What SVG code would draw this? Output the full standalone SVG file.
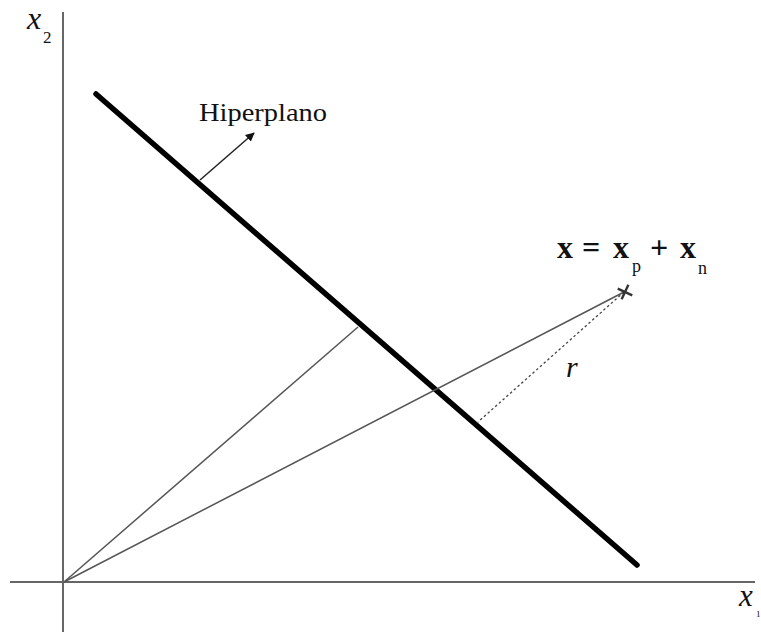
<svg xmlns="http://www.w3.org/2000/svg" width="761" height="632" viewBox="0 0 761 632">
<defs>
<style>
.axis{stroke:#666;stroke-width:2;fill:none}
.thin{stroke:#555;stroke-width:1.5;fill:none}
.lbl{font-family:"Liberation Serif","DejaVu Serif",serif;fill:#111}
.eq{font-family:"Liberation Serif","DejaVu Serif",serif;fill:#111;font-size:32px;font-weight:bold}
.sub{font-family:"Liberation Serif","DejaVu Serif",serif;fill:#111;font-size:18px}
</style>
<marker id="ah" viewBox="0 0 10 10" refX="9" refY="5" markerWidth="9" markerHeight="9" markerUnits="userSpaceOnUse" orient="auto"><path d="M0,0 L10,5 L0,10 z" fill="#111"/></marker>
</defs>
<rect width="761" height="632" fill="#fff"/>
<g id="axes">
<line class="axis" x1="63" y1="12" x2="63" y2="632"/>
<line class="axis" x1="10" y1="582" x2="755" y2="582"/>
<text class="lbl" x="27" y="29" font-size="32" font-style="italic">x</text>
<text class="lbl" x="43" y="43" font-size="17">2</text>
<text class="lbl" x="739" y="606" font-size="31" font-style="italic">x</text>
<text class="lbl" x="756" y="617" font-size="9">1</text>
</g>
<g id="hyperplane">
<line x1="96" y1="94" x2="637" y2="565" stroke="#000" stroke-width="5.5" stroke-linecap="round"/>
<text class="lbl" x="199" y="121" font-size="25" textLength="128" lengthAdjust="spacingAndGlyphs">Hiperplano</text>
</g>
<g id="connectors">
<line x1="200" y1="180" x2="254" y2="133" stroke="#222" stroke-width="1.5" marker-end="url(#ah)"/>
<line class="thin" x1="64" y1="582" x2="358" y2="327"/>
<line class="thin" x1="64" y1="582" x2="624" y2="292"/>
<line x1="624" y1="292" x2="478" y2="422" stroke="#444" stroke-width="1.3" stroke-dasharray="2.5,2.5"/>
</g>
<g id="point">
<g transform="translate(625,292) rotate(25)" stroke="#333" stroke-width="2.4">
<line x1="-8" y1="0" x2="8" y2="0"/>
<line x1="0" y1="-8" x2="0" y2="8"/>
</g>
<text class="eq" x="557" y="258">x</text>
<text class="eq" x="582" y="258">=</text>
<text class="eq" x="613" y="258">x</text>
<text class="sub" x="632" y="272">p</text>
<text class="eq" x="650" y="258">+</text>
<text class="eq" x="680" y="258">x</text>
<text class="sub" x="698" y="274">n</text>
<text class="lbl" x="566" y="377" font-size="30" font-style="italic">r</text>
</g>
</svg>
